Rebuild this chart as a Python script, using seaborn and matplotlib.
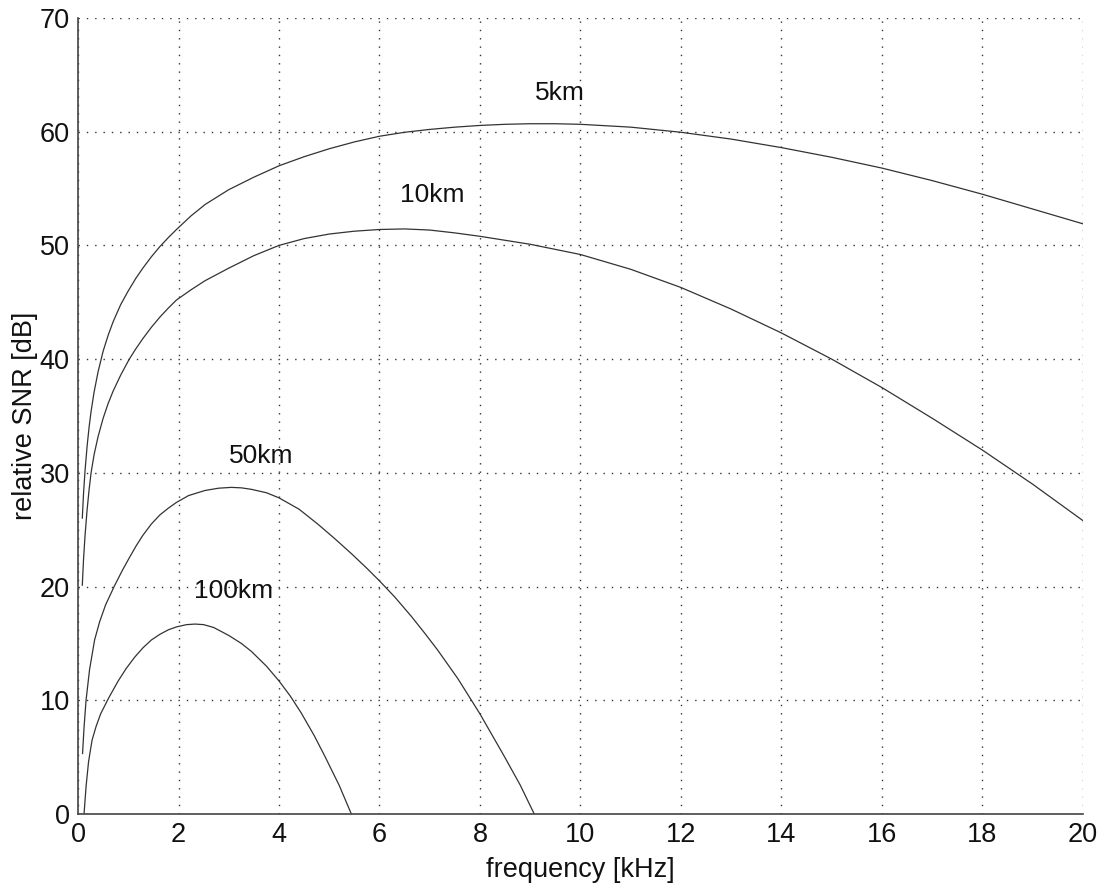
import seaborn as sns
import numpy as np
import pandas as pd
import matplotlib.pyplot as plt

# values
f_5km = [0.085, 0.11, 0.14, 0.18, 0.22, 0.26, 0.32, 0.4, 0.5, 0.6, 0.7, 0.85, 1.0, 1.15, 1.29, 1.46, 1.63,
         1.8, 1.96, 2.25, 2.53, 3.0, 3.5, 4.0, 4.5, 5.0, 5.5, 6.0, 6.5, 7.0, 7.5, 8.0, 8.5, 9.0, 9.5,
         10.0, 11.0, 12.0, 13.0, 14.0, 15.0, 16.0, 17.0, 18.0, 19.0, 20.0]
snr_5km = [26.0, 28.2, 30.2, 32.3, 34.0, 35.4, 37.1, 38.9, 40.7, 42.1, 43.3, 44.8, 46.0, 47.1, 48.0, 49.0, 49.9,
           50.7, 51.4, 52.6, 53.6, 54.9, 56.0, 57.0, 57.8, 58.5, 59.1, 59.6, 59.95, 60.2, 60.4, 60.55, 60.65, 60.7, 60.7,
           60.65, 60.4, 59.95, 59.35, 58.6, 57.75, 56.8, 55.7, 54.5, 53.2, 51.9]

f_10km = [0.085, 0.11, 0.14, 0.18, 0.22, 0.26, 0.32, 0.4, 0.5, 0.6, 0.7, 0.85, 1.02, 1.15, 1.29, 1.46, 1.63,
          1.8, 1.96, 2.25, 2.53, 3.0, 3.5, 4.0, 4.5, 5.0, 5.5, 6.0, 6.5, 7.0, 7.5, 8.0, 9.0,
          10.0, 11.0, 12.0, 13.0, 14.0, 15.0, 16.0, 17.0, 18.0, 19.0, 20.0]
snr_10km = [20.1, 22.4, 24.5, 26.7, 28.5, 30.0, 31.6, 33.2, 34.8, 36.1, 37.2, 38.6, 40.0, 40.9, 41.8, 42.8, 43.7,
            44.5, 45.2, 46.1, 46.9, 48.0, 49.1, 50.0, 50.6, 51.0, 51.25, 51.4, 51.45, 51.35, 51.1, 50.8, 50.1,
            49.2, 47.9, 46.3, 44.4, 42.3, 40.0, 37.5, 34.8, 32.0, 29.0, 25.8]

f_50km = [0.09, 0.12, 0.16, 0.23, 0.33, 0.43, 0.55, 0.73, 0.88, 1.03, 1.16, 1.29, 1.46, 1.63, 1.8, 1.96,
          2.2, 2.53, 2.8, 3.05, 3.25, 3.45, 3.75, 4.0, 4.4, 4.77, 5.1, 5.44, 5.75, 6.0, 6.3, 6.63,
          6.9, 7.16, 7.56, 8.0, 8.48, 8.8, 9.08]
snr_50km = [5.3, 7.6, 10.0, 12.7, 15.3, 16.9, 18.4, 20.1, 21.4, 22.6, 23.6, 24.5, 25.5, 26.3, 26.9, 27.4,
            28.0, 28.45, 28.65, 28.72, 28.68, 28.55, 28.25, 27.8, 26.8, 25.5, 24.25, 22.9, 21.6, 20.5, 19.1, 17.4,
            15.9, 14.4, 11.9, 8.8, 5.1, 2.55, 0.0]

f_100km = [0.12, 0.16, 0.21, 0.28, 0.36, 0.45, 0.61, 0.8, 0.96, 1.13, 1.29, 1.46, 1.63, 1.8, 1.96, 2.16,
           2.33, 2.5, 2.7, 3.0, 3.25, 3.45, 3.75, 4.0, 4.22, 4.44, 4.7, 4.91, 5.2, 5.44]
snr_100km = [0.0, 2.4, 4.6, 6.5, 7.7, 8.8, 10.2, 11.7, 12.8, 13.8, 14.6, 15.3, 15.8, 16.2, 16.45, 16.65,
             16.7, 16.65, 16.4, 15.7, 15.0, 14.3, 13.0, 11.7, 10.4, 8.9, 6.9, 5.1, 2.5, 0.0]

labels = ['5km', '10km', '50km', '100km']
label_x = [9.6, 7.05, 3.65, 3.1]
label_y = [63.4, 54.4, 31.5, 19.6]

df = pd.concat([
    pd.DataFrame({'f': f_5km, 'snr': snr_5km, 'd': '5km'}),
    pd.DataFrame({'f': f_10km, 'snr': snr_10km, 'd': '10km'}),
    pd.DataFrame({'f': f_50km, 'snr': snr_50km, 'd': '50km'}),
    pd.DataFrame({'f': f_100km, 'snr': snr_100km, 'd': '100km'}),
])

sns.set_style('white')
plt.rcParams['font.family'] = ['Liberation Sans', 'DejaVu Sans']

fig = plt.figure(figsize=(11.05, 8.86), dpi=100)
ax = fig.add_axes([0.0706, 0.0813, 0.9094, 0.8984])

for name in labels:
    sns.lineplot(data=df[df.d == name], x='f', y='snr', color='#333333', linewidth=0.9,
                 ax=ax, sort=False, estimator=None)

for t, x, y in zip(labels, label_x, label_y):
    ax.text(x, y, t, ha='center', va='center', fontsize=19, color='#111111')

ax.set_xlim(0, 20)
ax.set_ylim(0, 70)
ax.set_xticks(np.arange(0, 21, 2))
ax.set_yticks(np.arange(0, 71, 10))
ax.grid(True, color='#333333', linestyle=(0, (1, 5)), linewidth=1.0)
ax.tick_params(direction='in', length=7, width=1, labelsize=19.5, colors='#111111', pad=6)
for s in ['top', 'right']:
    ax.spines[s].set_visible(False)
for s in ['left', 'bottom']:
    ax.spines[s].set_color('#444444')
    ax.spines[s].set_linewidth(1.2)
ax.set_xlabel('frequency [kHz]', fontsize=19.5, labelpad=6, color='#111111')
ax.set_ylabel('relative SNR [dB]', fontsize=19.5, labelpad=1, color='#111111')

fig.savefig('out.png', dpi=100)
